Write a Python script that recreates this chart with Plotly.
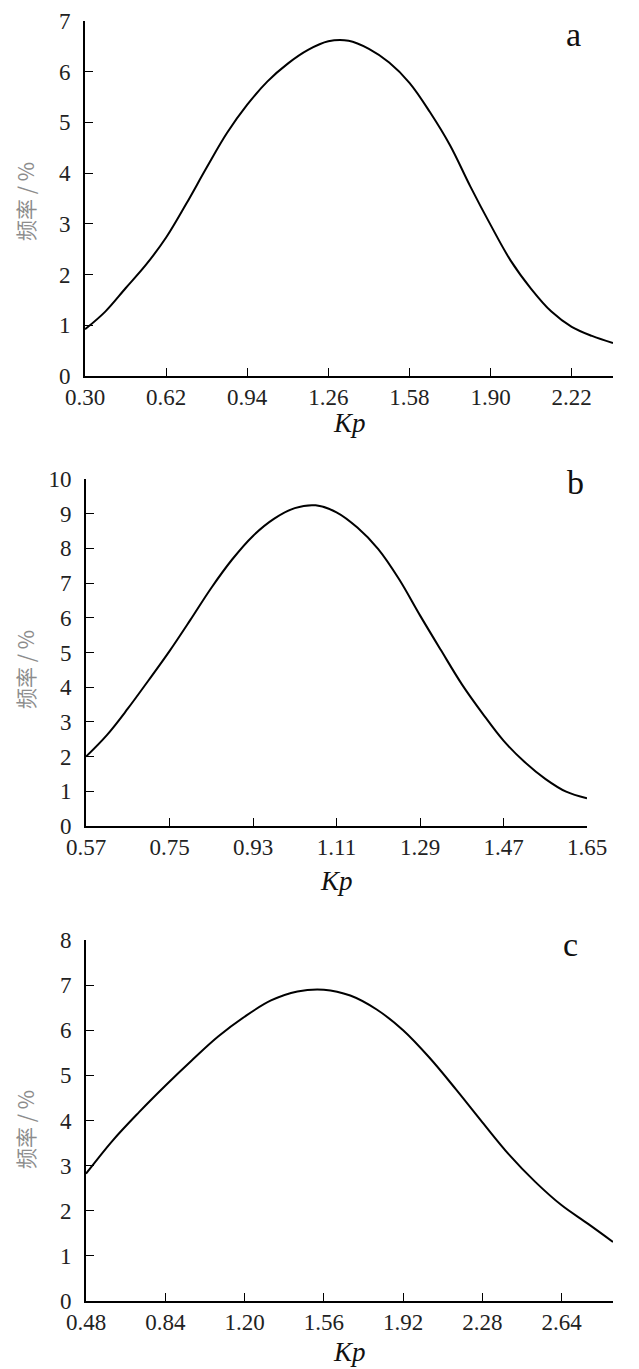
import plotly.graph_objects as go
from plotly.subplots import make_subplots

# --- data ---

# panel a
kp_a = [0.30, 0.38, 0.46, 0.54, 0.62, 0.70, 0.78, 0.86, 0.94, 1.02, 1.10, 1.18, 1.26, 1.34,
        1.42, 1.50, 1.58, 1.66, 1.74, 1.82, 1.90, 1.98, 2.06, 2.14, 2.22, 2.30, 2.383]
freq_a = [0.92, 1.27, 1.73, 2.19, 2.73, 3.40, 4.11, 4.79, 5.35, 5.81, 6.16, 6.43, 6.60, 6.61,
          6.45, 6.18, 5.78, 5.21, 4.55, 3.74, 2.98, 2.27, 1.72, 1.27, 0.97, 0.79, 0.65]
xticks_a = [0.30, 0.62, 0.94, 1.26, 1.58, 1.90, 2.22]
yticks_a = [0, 1, 2, 3, 4, 5, 6, 7]

# panel b
kp_b = [0.570, 0.615, 0.660, 0.705, 0.750, 0.795, 0.840, 0.885, 0.930, 0.975, 1.020, 1.065, 1.110,
        1.155, 1.200, 1.245, 1.290, 1.335, 1.380, 1.425, 1.470, 1.515, 1.560, 1.605, 1.650]
freq_b = [2.00, 2.62, 3.38, 4.20, 5.04, 5.94, 6.86, 7.68, 8.36, 8.85, 9.16, 9.24, 9.04,
          8.60, 7.98, 7.11, 6.07, 5.07, 4.09, 3.24, 2.46, 1.85, 1.36, 0.99, 0.80]
xticks_b = [0.57, 0.75, 0.93, 1.11, 1.29, 1.47, 1.65]
yticks_b = [0, 1, 2, 3, 4, 5, 6, 7, 8, 9, 10]

# panel c
kp_c = [0.48, 0.60, 0.72, 0.84, 0.96, 1.08, 1.20, 1.32, 1.44, 1.56, 1.68, 1.80, 1.92,
        2.04, 2.16, 2.28, 2.40, 2.52, 2.64, 2.76, 2.873]
freq_c = [2.82, 3.55, 4.18, 4.77, 5.33, 5.86, 6.30, 6.66, 6.86, 6.90, 6.77, 6.46, 6.00,
          5.39, 4.69, 3.96, 3.25, 2.64, 2.12, 1.71, 1.31]
xticks_c = [0.48, 0.84, 1.20, 1.56, 1.92, 2.28, 2.64]
yticks_c = [0, 1, 2, 3, 4, 5, 6, 7, 8]

# the page body has an 8px margin, so the figure is made smaller and
# all pixel positions below are page positions minus 8
OFF = 8
W, H = 639 - OFF, 1369 - OFF

fig = make_subplots(rows=3, cols=1)

panels = [
    (kp_a, freq_a, xticks_a, yticks_a, [0.30, 2.383], [0, 7]),
    (kp_b, freq_b, xticks_b, yticks_b, [0.57, 1.65], [0, 10]),
    (kp_c, freq_c, xticks_c, yticks_c, [0.48, 2.873], [0, 8]),
]

# page-pixel boxes of each plot area (left, right, top, bottom)
boxes = [(85, 613, 21, 376), (86, 587, 479, 826), (86, 613, 940, 1301)]

for i, (kp, freq, xt, yt, xr, yr) in enumerate(panels):
    fig.add_trace(go.Scatter(
        x=kp, y=freq, mode="lines", line=dict(color="black", width=2, shape="spline", smoothing=1),
        showlegend=False, cliponaxis=False
    ), row=i + 1, col=1)

    l, r, t, b = [v - OFF for v in boxes[i]]
    axis_style = dict(
        showline=True, linecolor="black", linewidth=1.6, mirror=False,
        ticks="inside", ticklen=8, tickwidth=1.4, tickcolor="black",
        showgrid=False, zeroline=False, automargin=False, ticklabeloverflow="allow",
        tickfont=dict(family="Liberation Serif", size=23, color="#222"),
    )
    fig.update_xaxes(
        domain=[l / W, r / W], range=xr, tickvals=xt, ticktext=["%.2f" % v for v in xt],
        ticklabelstandoff=0, **axis_style, row=i + 1, col=1
    )
    fig.update_yaxes(
        domain=[1 - b / H, 1 - t / H], range=yr, tickvals=yt,
        ticklabelstandoff=8, **axis_style, row=i + 1, col=1
    )


def note(text, px, py, **font):
    fig.add_annotation(x=(px - OFF) / W, y=1 - (py - OFF) / H, xref="paper", yref="paper",
                       xanchor="center", yanchor="middle", text=text, showarrow=False, **font)


# panel letters
for letter, (px, py) in zip(["a", "b", "c"], [(573, 35), (575, 483), (570, 944)]):
    note(letter, px, py, font=dict(family="Liberation Serif", size=34, color="#111"))

# Kp titles
for px, py in [(349, 423), (336, 881), (349, 1352)]:
    note("<i>Kp</i>", px, py, font=dict(family="Liberation Serif", size=27, color="#111"))

# y titles
for py in [202, 670, 1130]:
    note("频率 / %", 25, py, textangle=-90,
         font=dict(family="Noto Sans CJK SC", size=21, color="#8c8c8c"))

fig.update_layout(
    template="none",
    width=W, height=H,
    margin=dict(l=0, r=0, t=0, b=0),
    paper_bgcolor="white", plot_bgcolor="white",
)

fig.write_html("out.html")
